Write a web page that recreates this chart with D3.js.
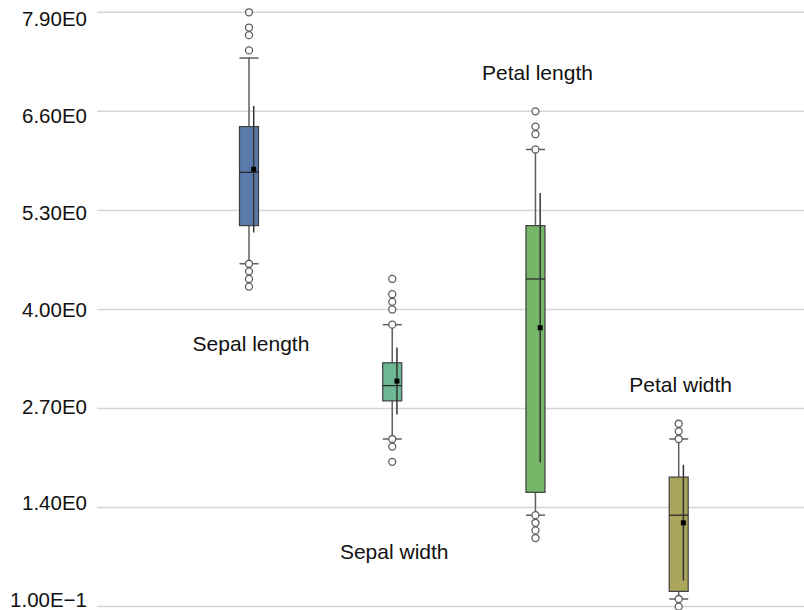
<!DOCTYPE html>
<html>
<head>
<meta charset="utf-8">
<script src="https://d3js.org/d3.v7.min.js"></script>
<style>
  body { margin: 0; background: #fff; }
  text { font-family: "Liberation Sans", Arial, sans-serif; }
</style>
</head>
<body>
<div id="chart"></div>
<script>
// Iris box plots

// Data
var categories = ["Sepal length", "Sepal width", "Petal length", "Petal width"];
var q1 = [5.1, 2.8, 1.6, 0.3];
var median = [5.8, 3.0, 4.4, 1.3];
var q3 = [6.4, 3.3, 5.1, 1.8];
var whiskerLow = [4.6, 2.3, 1.3, 0.2];
var whiskerHigh = [7.3, 3.8, 6.1, 2.3];
var means = [5.84, 3.06, 3.76, 1.2];
var sds = [0.83, 0.44, 1.77, 0.76];
var outliers = [
  [7.9, 7.7, 7.6, 7.4, 4.6, 4.5, 4.4, 4.3],
  [4.4, 4.2, 4.1, 4.0, 3.8, 2.3, 2.2, 2.0],
  [6.6, 6.4, 6.3, 6.1, 1.3, 1.2, 1.1, 1.0],
  [2.5, 2.4, 2.3, 0.2, 0.1]
];
var tickValues = [0.1, 1.4, 2.7, 4.0, 5.3, 6.6, 7.9];
var tickLabels = ["1.00E\u22121", "1.40E0", "2.70E0", "4.00E0", "5.30E0", "6.60E0", "7.90E0"];
// value where each category label sits
var labelAt = [3.46, 0.73, 7.01, 2.91];
var colors = ["#5a7aab", "#6cb894", "#76b668", "#aaa65c"];

// SVG area
var svgWidth = 804;
var svgHeight = 610;

var svg = d3.select("#chart")
    .append("svg")
    .attr("width", svgWidth)
    .attr("height", svgHeight);

// Scales
var yScale = d3.scaleLinear()
    .domain([0.1, 7.9])
    .range([606.6, 12.3]);

// tick labels are spaced slightly tighter than the gridlines
var yLabelScale = d3.scaleLinear()
    .domain([0.1, 7.9])
    .range([600, 19]);

var xScale = d3.scalePoint()
    .domain(categories)
    .range([249, 678.7]);

var boxW = 19;
var sdOffset = 4.7;

// Gridlines
svg.selectAll("line.grid")
    .data(tickValues)
    .enter()
    .append("line")
    .attr("class", "grid")
    .attr("x1", 97)
    .attr("x2", svgWidth)
    .attr("y1", d => yScale(d))
    .attr("y2", d => yScale(d))
    .attr("stroke", "#d6d6d6")
    .attr("stroke-width", 1.5);

// Tick labels
svg.selectAll("text.tick")
    .data(tickValues)
    .enter()
    .append("text")
    .attr("class", "tick")
    .attr("x", 87)
    .attr("y", d => yLabelScale(d))
    .attr("dy", "0.35em")
    .attr("text-anchor", "end")
    .attr("font-size", "20.5px")
    .attr("fill", "#111")
    .text((d, i) => tickLabels[i]);

var rows = categories.map(function(c, i) {
  return {
    name: c, q1: q1[i], med: median[i], q3: q3[i],
    lo: whiskerLow[i], hi: whiskerHigh[i],
    mean: means[i], sd: sds[i], out: outliers[i],
    color: colors[i], label: labelAt[i]
  };
});

var groups = svg.selectAll("g.box")
    .data(rows)
    .enter()
    .append("g")
    .attr("class", "box")
    .attr("transform", d => `translate(${xScale(d.name)},0)`);

// Whisker stem
groups.append("line")
    .attr("x1", 0).attr("x2", 0)
    .attr("y1", d => yScale(d.hi))
    .attr("y2", d => yScale(d.lo))
    .attr("stroke", "#5e5e5e")
    .attr("stroke-width", 1.5);

// Whisker caps
groups.selectAll("line.cap")
    .data(d => [d.hi, d.lo])
    .enter()
    .append("line")
    .attr("class", "cap")
    .attr("x1", -boxW / 2).attr("x2", boxW / 2)
    .attr("y1", d => yScale(d))
    .attr("y2", d => yScale(d))
    .attr("stroke", "#5e5e5e")
    .attr("stroke-width", 1.5);

// Box
groups.append("rect")
    .attr("x", -boxW / 2)
    .attr("width", boxW)
    .attr("y", d => yScale(d.q3))
    .attr("height", d => yScale(d.q1) - yScale(d.q3))
    .attr("fill", d => d.color)
    .attr("stroke", "#3f3f3f")
    .attr("stroke-width", 1.2);

// Median
groups.append("line")
    .attr("x1", -boxW / 2).attr("x2", boxW / 2)
    .attr("y1", d => yScale(d.med))
    .attr("y2", d => yScale(d.med))
    .attr("stroke", "#222")
    .attr("stroke-width", 1.2);

// Mean +/- sd line
groups.append("line")
    .attr("x1", sdOffset).attr("x2", sdOffset)
    .attr("y1", d => yScale(d.mean + d.sd))
    .attr("y2", d => yScale(d.mean - d.sd))
    .attr("stroke", "#333")
    .attr("stroke-width", 1.5);

// Mean marker
groups.append("rect")
    .attr("x", sdOffset - 2.5)
    .attr("y", d => yScale(d.mean) - 2.5)
    .attr("width", 5)
    .attr("height", 5)
    .attr("fill", "#000");

// Outliers
groups.selectAll("circle")
    .data(d => d.out)
    .enter()
    .append("circle")
    .attr("cx", 0)
    .attr("cy", d => yScale(d))
    .attr("r", 3.5)
    .attr("fill", "#fff")
    .attr("stroke", "#5e5e5e")
    .attr("stroke-width", 1.3);

// Category labels
svg.selectAll("text.cat")
    .data(rows)
    .enter()
    .append("text")
    .attr("class", "cat")
    .attr("x", d => xScale(d.name) + 2)
    .attr("y", d => yScale(d.label))
    .attr("text-anchor", "middle")
    .attr("font-size", "21px")
    .attr("fill", "#111")
    .text(d => d.name);
</script>
</body>
</html>
